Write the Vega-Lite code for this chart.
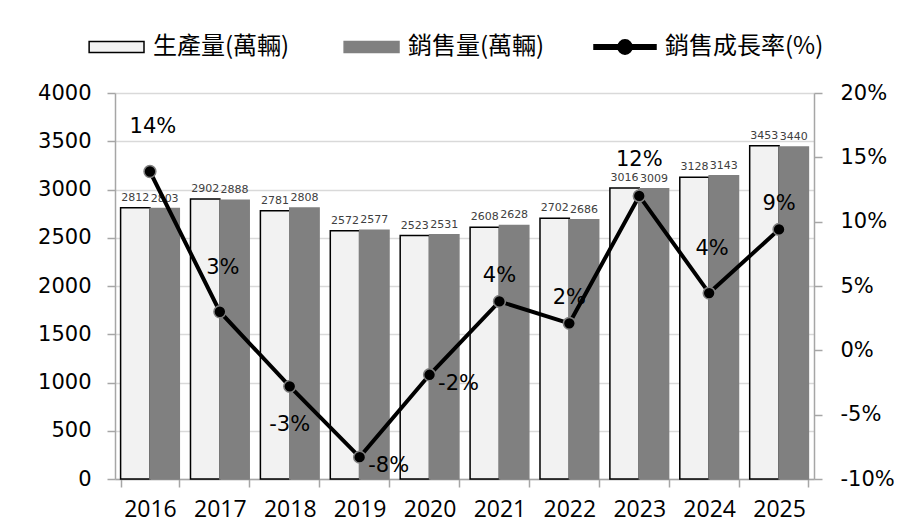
{
  "$schema": "https://vega.github.io/schema/vega-lite/v6.json",
  "width": 699,
  "height": 386,
  "autosize": {"type": "none"},
  "padding": {"left": 115, "top": 93, "right": 92, "bottom": 52},
  "background": "white",
  "config": {
    "view": {"stroke": null},
    "locale": {"number": {"decimal": ".", "thousands": ",", "grouping": [3], "currency": ["$", ""], "minus": "-"}},
    "legend": {
      "orient": "none",
      "legendX": -34,
      "legendY": -78,
      "direction": "horizontal",
      "columns": 3,
      "symbolSize": 3844,
      "symbolStrokeWidth": 1.5,
      "symbolOpacity": 1,
      "labelFont": "Noto Sans CJK TC",
      "labelFontSize": 24,
      "labelColor": "#000000",
      "labelOffset": 8,
      "columnPadding": 46,
      "labelLimit": 400
    }
  },
  "datasets": {
    "vol": [
      {"year": "2016", "series": "生產量(萬輛)", "value": 2812},
      {"year": "2016", "series": "銷售量(萬輛)", "value": 2803},
      {"year": "2017", "series": "生產量(萬輛)", "value": 2902},
      {"year": "2017", "series": "銷售量(萬輛)", "value": 2888},
      {"year": "2018", "series": "生產量(萬輛)", "value": 2781},
      {"year": "2018", "series": "銷售量(萬輛)", "value": 2808},
      {"year": "2019", "series": "生產量(萬輛)", "value": 2572},
      {"year": "2019", "series": "銷售量(萬輛)", "value": 2577},
      {"year": "2020", "series": "生產量(萬輛)", "value": 2523},
      {"year": "2020", "series": "銷售量(萬輛)", "value": 2531},
      {"year": "2021", "series": "生產量(萬輛)", "value": 2608},
      {"year": "2021", "series": "銷售量(萬輛)", "value": 2628},
      {"year": "2022", "series": "生產量(萬輛)", "value": 2702},
      {"year": "2022", "series": "銷售量(萬輛)", "value": 2686},
      {"year": "2023", "series": "生產量(萬輛)", "value": 3016},
      {"year": "2023", "series": "銷售量(萬輛)", "value": 3009},
      {"year": "2024", "series": "生產量(萬輛)", "value": 3128},
      {"year": "2024", "series": "銷售量(萬輛)", "value": 3143},
      {"year": "2025", "series": "生產量(萬輛)", "value": 3453},
      {"year": "2025", "series": "銷售量(萬輛)", "value": 3440}
    ],
    "growth": [
      {"year": "2016", "series": "銷售成長率(%)", "rate": 0.139},
      {"year": "2017", "series": "銷售成長率(%)", "rate": 0.030},
      {"year": "2018", "series": "銷售成長率(%)", "rate": -0.028},
      {"year": "2019", "series": "銷售成長率(%)", "rate": -0.083},
      {"year": "2020", "series": "銷售成長率(%)", "rate": -0.019},
      {"year": "2021", "series": "銷售成長率(%)", "rate": 0.038},
      {"year": "2022", "series": "銷售成長率(%)", "rate": 0.021},
      {"year": "2023", "series": "銷售成長率(%)", "rate": 0.120},
      {"year": "2024", "series": "銷售成長率(%)", "rate": 0.0445},
      {"year": "2025", "series": "銷售成長率(%)", "rate": 0.094}
    ]
  },
  "layer": [
    {
      "data": {"name": "vol"},
      "encoding": {
        "x": {
          "field": "year", "type": "nominal", "title": null, "sort": null,
          "scale": {"paddingInner": 0.16, "paddingOuter": 0.08},
          "axis": {
            "orient": "bottom", "tickBand": "extent", "labelAngle": 0,
            "domainColor": "#a6a6a6", "domainWidth": 1.5, "tickColor": "#a6a6a6", "tickWidth": 1.5, "tickSize": 8,
            "labelFont": "Open Sans", "labelFontSize": 23, "labelColor": "#000000", "labelPadding": 11
          }
        },
        "xOffset": {"field": "series", "type": "nominal", "scale": {"domain": ["生產量(萬輛)", "銷售量(萬輛)"], "paddingInner": 0, "paddingOuter": 0}},
        "y": {
          "field": "value", "type": "quantitative", "title": null,
          "scale": {"domain": [0, 4000]},
          "axis": {
            "orient": "left", "values": [0, 500, 1000, 1500, 2000, 2500, 3000, 3500, 4000], "format": "d",
            "grid": true, "gridColor": "#d9d9d9", "gridWidth": 1.5,
            "domainColor": "#a6a6a6", "domainWidth": 1.5, "tickColor": "#a6a6a6", "tickWidth": 1.5, "tickSize": 8,
            "labelFont": "DejaVu Sans", "labelFontSize": 21, "labelColor": "#000000", "labelPadding": 16
          }
        }
      },
      "layer": [
        {
          "mark": {"type": "bar", "strokeWidth": 1.5},
          "encoding": {
            "color": {
              "field": "series", "type": "nominal", "title": null,
              "scale": {"domain": ["生產量(萬輛)", "銷售量(萬輛)", "銷售成長率(%)"], "range": ["#f2f2f2", "#808080", "#000000"]}
            },
            "stroke": {
              "field": "series", "type": "nominal", "title": null,
              "scale": {"domain": ["生產量(萬輛)", "銷售量(萬輛)", "銷售成長率(%)"], "range": ["#000000", "#808080", "#000000"]}
            }
          }
        },
        {
          "mark": {"type": "text", "baseline": "bottom", "dy": -5, "font": "DejaVu Sans", "fontSize": 11, "color": "#404040"},
          "encoding": {"text": {"field": "value", "type": "quantitative", "format": "d"}}
        }
      ]
    },
    {
      "data": {"name": "growth"},
      "encoding": {
        "x": {
          "field": "year", "type": "nominal", "title": null, "sort": null,
          "axis": {
            "orient": "bottom", "tickBand": "extent", "labelAngle": 0,
            "domainColor": "#a6a6a6", "domainWidth": 1.5, "tickColor": "#a6a6a6", "tickWidth": 1.5, "tickSize": 8,
            "labelFont": "Open Sans", "labelFontSize": 23, "labelColor": "#000000", "labelPadding": 11
          }
        },
        "y": {
          "field": "rate", "type": "quantitative", "title": null,
          "scale": {"domain": [-0.1, 0.2]},
          "axis": {
            "orient": "right", "values": [-0.1, -0.05, 0, 0.05, 0.1, 0.15, 0.2], "format": ".0%",
            "grid": false,
            "domainColor": "#a6a6a6", "domainWidth": 1.5, "tickColor": "#a6a6a6", "tickWidth": 1.5, "tickSize": 8,
            "labelFont": "DejaVu Sans", "labelFontSize": 21, "labelColor": "#000000", "labelPadding": 18
          }
        }
      },
      "layer": [
        {"mark": {"type": "line", "color": "#000000", "strokeWidth": 4}},
        {"mark": {"type": "point", "filled": true, "size": 140, "fill": "#000000", "stroke": "#808080", "strokeWidth": 1.5, "opacity": 1}},
        {
          "mark": {"type": "point", "filled": true, "opacity": 0},
          "encoding": {
            "color": {
              "field": "series", "type": "nominal", "title": null,
              "scale": {"domain": ["生產量(萬輛)", "銷售量(萬輛)", "銷售成長率(%)"], "range": ["#f2f2f2", "#808080", "#000000"]}
            },
            "stroke": {
              "field": "series", "type": "nominal", "title": null,
              "scale": {"domain": ["生產量(萬輛)", "銷售量(萬輛)", "銷售成長率(%)"], "range": ["#000000", "#808080", "#000000"]}
            },
            "shape": {
              "field": "series", "type": "nominal", "title": null,
              "scale": {
                "domain": ["生產量(萬輛)", "銷售量(萬輛)", "銷售成長率(%)"],
                "range": [
                  "M-0.77,-0.18H1V0.18H-0.77Z",
                  "M-0.77,-0.18H1V0.18H-0.77Z",
                  "M-1,-0.07H1V0.07H-1Z M0.23,0A0.23,0.23,0,1,1,-0.23,0A0.23,0.23,0,1,1,0.23,0Z"
                ]
              }
            }
          }
        },
        {
          "transform": [{"filter": {"field": "year", "oneOf": ["2016", "2017", "2024"]}}],
          "mark": {"type": "text", "dy": -44, "dx": 3, "font": "DejaVu Sans", "fontSize": 21, "color": "#000000"},
          "encoding": {"text": {"field": "rate", "type": "quantitative", "format": ".0%"}}
        },
        {
          "transform": [{"filter": {"field": "year", "oneOf": ["2023"]}}],
          "mark": {"type": "text", "dy": -36, "font": "DejaVu Sans", "fontSize": 21, "color": "#000000"},
          "encoding": {"text": {"field": "rate", "type": "quantitative", "format": ".0%"}}
        },
        {
          "transform": [{"filter": {"field": "year", "oneOf": ["2021", "2022", "2025"]}}],
          "mark": {"type": "text", "dy": -25, "font": "DejaVu Sans", "fontSize": 21, "color": "#000000"},
          "encoding": {"text": {"field": "rate", "type": "quantitative", "format": ".0%"}}
        },
        {
          "transform": [{"filter": {"field": "year", "oneOf": ["2018"]}}],
          "mark": {"type": "text", "dy": 39, "font": "DejaVu Sans", "fontSize": 21, "color": "#000000"},
          "encoding": {"text": {"field": "rate", "type": "quantitative", "format": ".0%"}}
        },
        {
          "transform": [{"filter": {"field": "year", "oneOf": ["2019", "2020"]}}],
          "mark": {"type": "text", "dx": 29, "dy": 9, "font": "DejaVu Sans", "fontSize": 21, "color": "#000000"},
          "encoding": {"text": {"field": "rate", "type": "quantitative", "format": ".0%"}}
        }
      ]
    }
  ],
  "resolve": {"scale": {"y": "independent"}}
}
